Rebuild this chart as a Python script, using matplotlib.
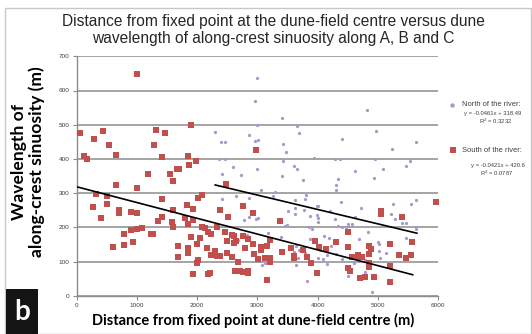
import matplotlib
matplotlib.use("Agg")
import matplotlib.pyplot as plt
from matplotlib.patches import Rectangle

# ---------------- data ----------------
south_x = [1002, 50, 432, 287, 537, 116, 171, 648, 1317, 1467, 1284, 1417, 1899, 1849, 1982,
           1660, 1700, 1866, 1184, 1550, 1605,
           648, 1002, 321, 498, 271, 498, 404, 698, 698, 902, 1002, 1417, 1600, 1832, 1927, 2015,
           1417, 1350, 1578, 1600, 1799, 1849, 1927, 1085, 1002, 902, 781, 1230, 1260, 608, 781,
           935, 1678, 1849, 1849, 1678, 1899, 1998, 2048, 2015, 1998, 1927,
           2081, 2480, 2978, 2762, 2923, 2375, 2513, 3377, 2081, 2131, 2181, 2226, 2331, 2463,
           2575, 2608, 2762, 2845, 2497, 2608, 2641, 2923, 2796, 3062, 3062, 3161, 3216,
           2164, 2297, 2231, 2331, 2380, 2497, 2575, 2945, 3012, 3128, 3216, 3216, 3415, 2680,
           2630, 2707, 2762, 2845, 2845, 2187, 2220, 3161, 3605, 3605, 3754, 3826, 3887, 3950,
           4025, 3987, 3560,
           5968, 5055, 5055, 5399, 4507, 4141, 4307, 4507, 4855, 4889, 4855, 5199, 5575, 5354,
           5465, 5553, 4578, 4640, 4734, 4678, 4850, 4855, 5199, 4507, 4545, 4701, 4789, 4939, 5199]
south_y = [649, 477, 482, 458, 441, 408, 400, 411, 485, 477, 441, 405, 500, 409, 394,
           371, 371, 382, 356, 356, 336,
           324, 315, 298, 292, 260, 269, 227, 251, 243, 246, 242, 284, 250, 266, 254, 286,
           231, 219, 215, 202, 228, 211, 221, 198, 195, 193, 180, 181, 181, 143, 149,
           158, 146, 140, 124, 114, 172, 151, 170, 104, 96, 64,
           295, 327, 427, 263, 243, 250, 230, 219, 202, 197, 187, 180, 201, 187,
           177, 175, 175, 165, 159, 153, 159, 151, 140, 143, 134, 146, 162,
           139, 130, 119, 115, 115, 125, 114, 123, 108, 111, 111, 99, 128, 99,
           72, 72, 68, 73, 66, 63, 67, 47, 116, 110, 134, 113, 96, 161,
           143, 66, 140,
           275, 249, 239, 231, 185, 136, 158, 143, 146, 137, 122, 152, 158, 120,
           111, 119, 113, 114, 114, 119, 97, 85, 88, 82, 72, 52, 56, 56, 41]

north_x = [3000, 2957, 3405, 3000, 3654, 3688, 2302, 2857, 2392, 2458, 2967, 3006, 3432, 3472,
           3942, 2369, 2458, 3432, 3615, 3654, 2591, 3000, 2414, 2734, 3415, 3764,
           4817, 4967, 4412, 5641, 5233, 4286, 4379, 4955, 5532, 5476, 5088, 4623, 4944, 4336,
           4307, 4307, 4385, 5259, 5553, 5641, 3987, 4008, 4203, 4723, 3997, 4003, 4008, 4291,
           4623, 5227, 5294, 5410, 5476, 4336, 4402, 4473, 4502, 4578, 4839, 5641, 5641, 4108,
           4191, 4695, 5000, 5027, 5476, 4224, 4037, 4120, 5027, 5144, 4163, 4307, 4585, 4623,
           4668, 4003, 4097, 4402, 4795, 5033, 4158, 4611, 4872, 4795, 4512, 4678, 4900,
           3066, 3299, 3261, 2414, 2641, 2857, 3621, 3797, 3804, 3515, 3626, 3626, 3776, 3875,
           2857, 2784, 2978, 3007, 3455, 3488, 3854, 3904, 3183, 2685, 2824, 3399, 3881, 3643,
           3698, 3798, 3610, 3682, 3643, 3083, 3128, 3826]
north_y = [637, 569, 520, 500, 495, 477, 478, 469, 449, 449, 452, 456, 444, 419,
           404, 400, 400, 393, 380, 370, 375, 370, 357, 353, 349, 339,
           542, 482, 459, 449, 429, 400, 400, 400, 395, 379, 370, 364, 344, 340,
           324, 309, 275, 269, 269, 281, 261, 263, 249, 256, 236, 226, 215, 223,
           229, 239, 224, 212, 213, 205, 200, 202, 209, 209, 185, 200, 195, 175,
           168, 166, 158, 150, 170, 144, 133, 133, 131, 124, 118, 123, 119, 115,
           117, 109, 106, 106, 105, 109, 93, 95, 99, 69, 58, 55, 11,
           309, 302, 292, 284, 292, 285, 279, 283, 293, 248, 256, 239, 251, 234,
           231, 220, 223, 226, 204, 207, 202, 195, 184, 164, 177, 171, 165, 145,
           133, 126, 127, 109, 90, 89, 95, 43]

# trend lines (slope, intercept, x-range)
trend_lower = (-0.0461, 318.49, [0, 5580])
trend_upper = (-0.0421, 420.6, [2300, 5650])

x_ticks = [0, 1000, 2000, 3000, 4000, 5000, 6000]
y_ticks = [0, 100, 200, 300, 400, 500, 600, 700]

title = "Distance from fixed point at the dune-field centre versus dune\nwavelength of along-crest sinuosity along A, B and C"
xlabel = "Distance from fixed point at dune-field centre (m)"
ylabel = "Wavelength of\nalong-crest sinuosity (m)"
leg_north = "North of the river:"
leg_north_eq = "y = -0.0461x + 318.49"
leg_north_r2 = "R$^2$ = 0.3232"
leg_south = "South of the river:"
leg_south_eq = "y = -0.0421x + 420.6"
leg_south_r2 = "R$^2$ = 0.0787"

# ---------------- figure ----------------
W, H = 532, 334
fig = plt.figure(figsize=(W / 100, H / 100), dpi=100)

def fx(px):
    return px / W

def fy(py):
    return 1 - py / H

# outer border
fig.patches.append(Rectangle((fx(5), fy(334)), fx(531) - fx(5), fy(8) - fy(334),
                             transform=fig.transFigure, fill=False,
                             edgecolor='#c8c8c8', linewidth=1.0))

ax = fig.add_axes([fx(76.7), fy(295.7), fx(438) - fx(76.7), fy(56.3) - fy(295.7)])
ax.set_xlim(0, 6000)
ax.set_ylim(0, 700)
ax.set_xticks(x_ticks)
ax.set_yticks(y_ticks)
ax.set_xticklabels([str(t) for t in x_ticks], fontsize=4.6, color='#404040',
                   family='Liberation Sans')
ax.set_yticklabels([str(t) for t in y_ticks], fontsize=4.6, color='#404040',
                   family='Liberation Sans')
ax.tick_params(axis='both', direction='out', length=3, width=0.8, color='#8c8c8c', pad=2)
for s in ['top', 'right']:
    ax.spines[s].set_visible(False)
for s in ['left', 'bottom']:
    ax.spines[s].set_color('#8c8c8c')
    ax.spines[s].set_linewidth(1.0)
ax.grid(axis='y', color='#8c8c8c', linewidth=1.1)
ax.set_axisbelow(True)

ax.scatter(north_x, north_y, s=5.5, marker='o', color='#a898cc', linewidths=0, zorder=3)
ax.scatter(south_x, south_y, s=15, marker='s', color='#c0504d', linewidths=0, zorder=3)

for m, b, xr in (trend_lower, trend_upper):
    ax.plot(xr, [m * xr[0] + b, m * xr[1] + b], color='black', linewidth=1.2, zorder=4)

# title
fig.text(fx(273.5), fy(30), title, ha='center', va='center', fontsize=11.2,
         family='Liberation Sans', color='#262626', linespacing=1.1)

# axis labels
fig.text(fx(28), fy(162), ylabel, ha='center', va='center', rotation=90,
         fontsize=12.6, fontweight='bold', family='Lato', color='black', linespacing=1.05)
fig.text(fx(253), fy(320), xlabel, ha='center', va='center',
         fontsize=10.5, fontweight='bold', family='Lato', color='black')

# legend
fig.add_artist(plt.Line2D([fx(452)], [fy(104.7)], marker='o', markersize=3.2,
                          color='#a898cc', markeredgewidth=0, transform=fig.transFigure))
fig.text(fx(462.5), fy(105), leg_north, ha='left', va='center', fontsize=5.4,
         family='Liberation Sans', color='#404040')
fig.text(fx(493), fy(113.3), leg_north_eq, ha='center', va='center', fontsize=4.2,
         family='Liberation Sans', color='#404040')
fig.text(fx(496), fy(121.3), leg_north_r2, ha='center', va='center', fontsize=4.2,
         family='Liberation Sans', color='#404040')
fig.add_artist(plt.Line2D([fx(453.3)], [fy(149.7)], marker='s', markersize=5,
                          color='#c0504d', markeredgewidth=0, transform=fig.transFigure))
fig.text(fx(462.5), fy(150), leg_south, ha='left', va='center', fontsize=5.4,
         family='Liberation Sans', color='#404040')
fig.text(fx(497.7), fy(165.3), leg_south_eq, ha='center', va='center', fontsize=4.2,
         family='Liberation Sans', color='#404040')
fig.text(fx(497), fy(173.7), leg_south_r2, ha='center', va='center', fontsize=4.2,
         family='Liberation Sans', color='#404040')

# panel letter
fig.patches.append(Rectangle((fx(6), fy(334)), fx(38) - fx(6), fy(289) - fy(334),
                             transform=fig.transFigure, facecolor='#141414',
                             edgecolor='none'))
fig.text(fx(22), fy(312), "b", ha='center', va='center', fontsize=20,
         fontweight='bold', family='Lato', color='white')

fig.savefig("out.png", dpi=100)
